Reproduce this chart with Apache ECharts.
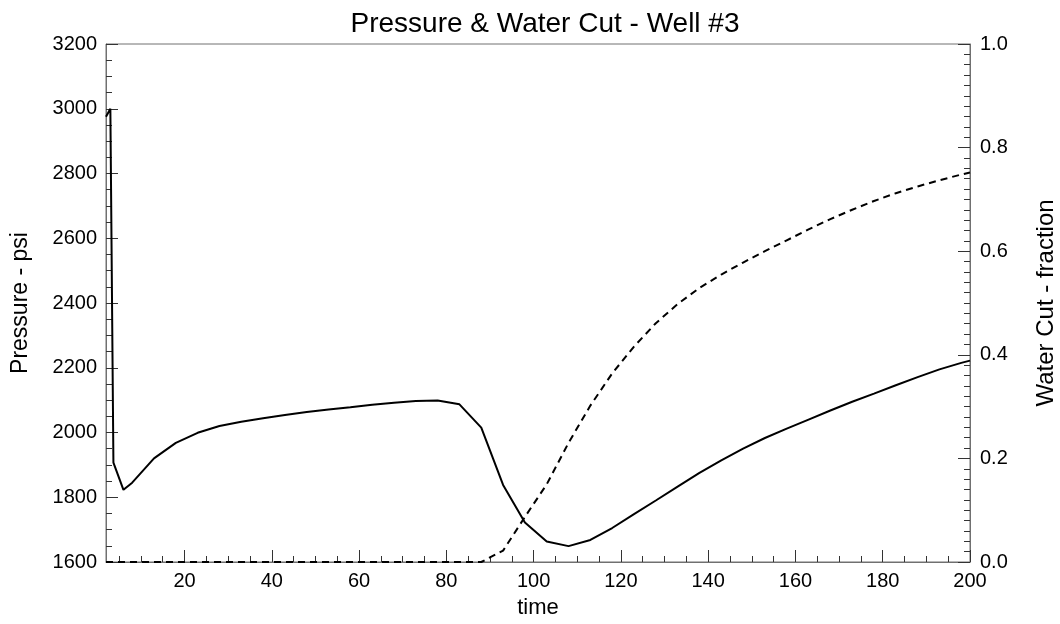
<!DOCTYPE html>
<html>
<head>
<meta charset="utf-8">
<script src="https://cdn.jsdelivr.net/npm/echarts@6/dist/echarts.min.js"></script>
<style>
html,body{margin:0;padding:0;background:#fff;}
#chart{width:1060px;height:624px;}
</style>
</head>
<body>
<div id="chart"></div>
<script>
// ---- data ----
const time = [2, 3, 3.7, 6, 8, 13, 18, 23, 28, 33, 38, 43, 48, 53, 58, 63, 68, 73, 78, 83, 88, 93, 98, 103, 108, 113, 118, 123, 128, 133, 138, 143, 148, 153, 158, 163, 168, 173, 178, 183, 188, 193, 198, 200];
const pressure = [2975, 3000, 1907, 1823, 1845, 1920, 1968, 1999, 2020, 2033, 2044, 2054, 2063, 2071, 2078, 2086, 2092, 2097, 2099, 2087, 2015, 1838, 1722, 1663, 1649, 1668, 1705, 1748, 1790, 1833, 1875, 1914, 1950, 1983, 2012, 2040, 2068, 2095, 2120, 2146, 2171, 2195, 2215, 2222];
const waterCut = [0, 0, 0, 0, 0, 0, 0, 0, 0, 0, 0, 0, 0, 0, 0, 0, 0, 0, 0, 0, 0, 0.022, 0.087, 0.150, 0.230, 0.302, 0.364, 0.416, 0.461, 0.498, 0.529, 0.555, 0.578, 0.600, 0.621, 0.642, 0.662, 0.680, 0.697, 0.712, 0.725, 0.737, 0.748, 0.752];
const xMajorTicks = [20, 40, 60, 80, 100, 120, 140, 160, 180, 200];
const xMinorTicks = [5, 10, 15, 25, 30, 35, 45, 50, 55, 65, 70, 75, 85, 90, 95, 105, 110, 115, 125, 130, 135, 145, 150, 155, 165, 170, 175, 185, 190, 195];

const titleText = 'Pressure & Water Cut - Well #3';
const xName = 'time';
const yLeftName = 'Pressure - psi';
const yRightName = 'Water Cut - fraction';

const FONT = 'Liberation Sans';
const AXIS_COLOR = '#707070';
const TICK_COLOR = '#333';

const chart = echarts.init(document.getElementById('chart'));
chart.setOption({
  animation: false,
  backgroundColor: '#fff',
  textStyle: { fontFamily: FONT },
  title: {
    text: titleText,
    left: 540, textAlign: 'center', top: 5,
    textStyle: { fontFamily: FONT, fontSize: 28, fontWeight: 'normal', color: '#000' }
  },
  grid: {
    left: 106, right: 90, top: 44, bottom: 62,
    outerBoundsMode: 'none', containLabel: false,
    show: true, borderColor: AXIS_COLOR, borderWidth: 1, backgroundColor: 'transparent'
  },
  xAxis: [{
    type: 'value', min: 2, max: 200,
    name: xName, nameLocation: 'middle', nameGap: 35,
    nameTextStyle: { fontFamily: FONT, fontSize: 22, color: '#000' },
    axisLine: { show: true, lineStyle: { color: AXIS_COLOR, width: 1 } },
    axisTick: { show: true, inside: true, length: 12, customValues: xMajorTicks, lineStyle: { color: TICK_COLOR } },
    axisLabel: { show: true, customValues: xMajorTicks, margin: 9, fontFamily: FONT, fontSize: 20, color: '#000', formatter: v => String(v) },
    splitLine: { show: false }
  }, {
    type: 'value', min: 2, max: 200, position: 'bottom',
    axisLine: { show: false },
    axisTick: { show: true, inside: true, length: 6, customValues: xMinorTicks, lineStyle: { color: TICK_COLOR } },
    axisLabel: { show: false },
    splitLine: { show: false }
  }],
  yAxis: [{
    type: 'value', min: 1600, max: 3200, interval: 200, position: 'left',
    name: yLeftName, nameLocation: 'middle', nameGap: 74, nameRotate: 90,
    nameTextStyle: { fontFamily: FONT, fontSize: 23, color: '#000' },
    axisLine: { show: true, lineStyle: { color: AXIS_COLOR, width: 1 } },
    axisTick: { show: true, inside: true, length: 12, lineStyle: { color: TICK_COLOR } },
    minorTick: { show: true, splitNumber: 4, length: 6, lineStyle: { color: TICK_COLOR } },
    axisLabel: { margin: 9, fontFamily: FONT, fontSize: 20, color: '#000', formatter: v => String(v) },
    splitLine: { show: false }
  }, {
    type: 'value', min: 0, max: 1, interval: 0.2, position: 'right',
    name: yRightName, nameLocation: 'middle', nameGap: 64, nameRotate: 90,
    nameTextStyle: { fontFamily: FONT, fontSize: 24, color: '#000' },
    axisLine: { show: true, lineStyle: { color: AXIS_COLOR, width: 1 } },
    axisTick: { show: true, inside: true, length: 12, lineStyle: { color: TICK_COLOR } },
    minorTick: { show: true, splitNumber: 10, length: 6, lineStyle: { color: TICK_COLOR } },
    axisLabel: { margin: 10, fontFamily: FONT, fontSize: 20, color: '#000', formatter: v => v.toFixed(1) },
    splitLine: { show: false }
  }],
  series: [{
    name: 'Pressure', type: 'line', xAxisIndex: 0, yAxisIndex: 0,
    data: time.map((t, i) => [t, pressure[i]]),
    showSymbol: false, symbol: 'none',
    lineStyle: { color: '#000', width: 2, type: 'solid' }
  }, {
    name: 'Water Cut', type: 'line', xAxisIndex: 0, yAxisIndex: 1,
    data: time.map((t, i) => [t, waterCut[i]]),
    showSymbol: false, symbol: 'none',
    lineStyle: { color: '#000', width: 2, type: [7, 5] }
  }]
});
</script>
</body>
</html>
